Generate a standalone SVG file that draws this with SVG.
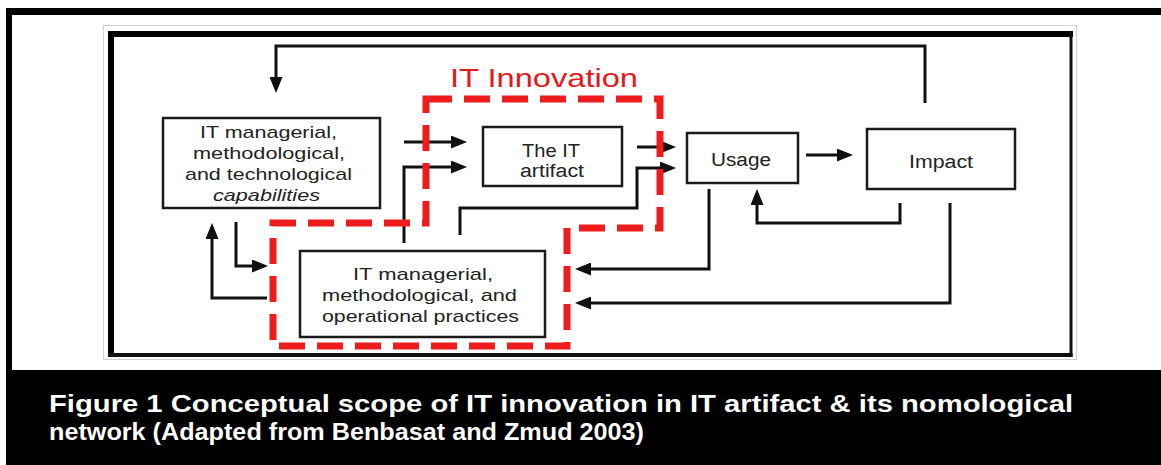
<svg xmlns="http://www.w3.org/2000/svg" width="1161" height="465" viewBox="0 0 1161 465">
  <defs>
    <style>
      .box { fill: #ffffff; stroke: #1a1a1a; stroke-width: 2.5; }
      .lbl { font-family: "Liberation Sans", Arial, sans-serif; fill: #222222; text-anchor: middle; }
      .conn { fill: none; stroke: #111111; stroke-width: 3; stroke-linejoin: miter; marker-end: url(#arrow); }
      .cap { font-family: "Liberation Sans", Arial, sans-serif; font-weight: bold; font-size: 24px; fill: #ffffff; }
    </style>
    <marker id="arrow" viewBox="0 0 16 13" refX="12" refY="6.5" markerWidth="16" markerHeight="13" markerUnits="userSpaceOnUse" orient="auto">
      <path d="M0,0 L16,6.5 L0,13 z" fill="#111111"/>
    </marker>
  </defs>

  <!-- page background and outer frame -->
  <rect x="0" y="0" width="1161" height="465" fill="#ffffff"/>
  <g id="frame">
    <rect x="6" y="8" width="1155" height="7" fill="#000000"/>
    <rect x="6" y="8" width="6" height="457" fill="#000000"/>
    <rect x="6" y="370" width="1155" height="95" fill="#000000"/>
    <rect x="103.5" y="25.5" width="973" height="334" fill="#ffffff" stroke="#d0d0d0" stroke-width="1"/>
    <rect x="108" y="31" width="6" height="326" fill="#000000"/>
    <rect x="108" y="31" width="965" height="6" fill="#000000"/>
    <rect x="1069.5" y="31" width="3" height="326" fill="#111111"/>
    <rect x="108" y="353" width="964.5" height="4" fill="#111111"/>
  </g>

  <!-- connectors -->
  <g id="connectors">
    <path class="conn" d="M925,103 V46 H276 V89"/>
    <path class="conn" d="M404,142 H463"/>
    <path class="conn" d="M404,243 V167 H463"/>
    <path class="conn" d="M637,147 H672"/>
    <path class="conn" d="M460,235 V208 H637 V168 H672"/>
    <path class="conn" d="M806,155 H849"/>
    <path class="conn" d="M900,203 V223 H757 V193"/>
    <path class="conn" d="M709,189 V269 H579"/>
    <path class="conn" d="M950,203 V303 H579"/>
    <path class="conn" d="M236,222 V266 H264"/>
    <path class="conn" d="M267,298 H212 V227"/>
  </g>

  <!-- IT Innovation boundary -->
  <g id="it-innovation">
    <path d="M426,99 H660 V228 H567 V346 H273 V223 H426 Z" fill="none" stroke="#ee1c1c" stroke-width="7" stroke-dasharray="26 12"/>
    <text x="544" y="87" font-family="Liberation Sans, Arial, sans-serif" font-size="26" fill="#e3191c" text-anchor="middle" textLength="188" lengthAdjust="spacingAndGlyphs">IT Innovation</text>
  </g>

  <g id="capabilities">
    <rect class="box" x="163" y="118" width="217" height="90"/>
    <text class="lbl" font-size="17" x="268.5" y="138" textLength="137" lengthAdjust="spacingAndGlyphs">IT managerial,</text>
    <text class="lbl" font-size="17" x="269" y="159" textLength="152" lengthAdjust="spacingAndGlyphs">methodological,</text>
    <text class="lbl" font-size="17" x="268.5" y="180" textLength="167" lengthAdjust="spacingAndGlyphs">and technological</text>
    <text class="lbl" font-size="17" x="266.5" y="201" font-style="italic" textLength="107" lengthAdjust="spacingAndGlyphs">capabilities</text>
  </g>

  <g id="it-artifact">
    <rect class="box" x="483" y="127" width="139" height="59"/>
    <text class="lbl" font-size="18" x="551" y="157" textLength="58" lengthAdjust="spacingAndGlyphs">The IT</text>
    <text class="lbl" font-size="18" x="552" y="177" textLength="64" lengthAdjust="spacingAndGlyphs">artifact</text>
  </g>

  <g id="usage">
    <rect class="box" x="687" y="133" width="111" height="50"/>
    <text class="lbl" font-size="18" x="741" y="166" textLength="60" lengthAdjust="spacingAndGlyphs">Usage</text>
  </g>

  <g id="impact">
    <rect class="box" x="867" y="129" width="148" height="60"/>
    <text class="lbl" font-size="18" x="941" y="168" textLength="64" lengthAdjust="spacingAndGlyphs">Impact</text>
  </g>

  <g id="practices">
    <rect class="box" x="300" y="251" width="245" height="86"/>
    <text class="lbl" font-size="17" x="423" y="280" textLength="140" lengthAdjust="spacingAndGlyphs">IT managerial,</text>
    <text class="lbl" font-size="17" x="419.5" y="301" textLength="195" lengthAdjust="spacingAndGlyphs">methodological, and</text>
    <text class="lbl" font-size="17" x="420.5" y="322" textLength="197" lengthAdjust="spacingAndGlyphs">operational practices</text>
  </g>

  <g id="caption">
    <text class="cap" x="49" y="412" textLength="1024" lengthAdjust="spacingAndGlyphs">Figure 1 Conceptual scope of IT innovation in IT artifact &amp; its nomological</text>
    <text class="cap" x="49" y="440" textLength="595" lengthAdjust="spacingAndGlyphs">network (Adapted from Benbasat and Zmud 2003)</text>
  </g>
</svg>
